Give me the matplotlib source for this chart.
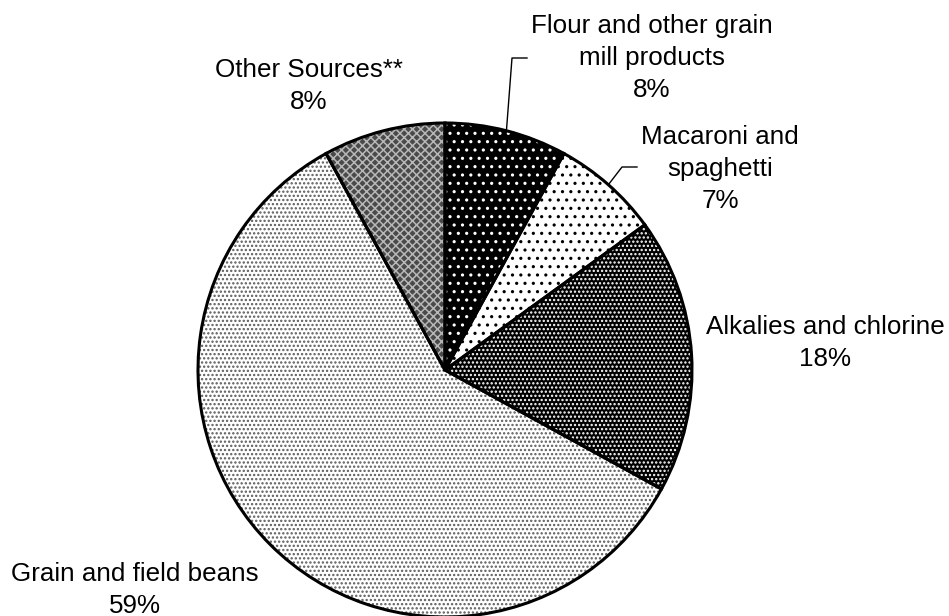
import numpy as np
import matplotlib.pyplot as plt

plt.rcParams['font.family'] = ['Liberation Sans', 'DejaVu Sans']
plt.rcParams['hatch.linewidth'] = 1.1

categories = ['Flour and other grain\nmill products', 'Macaroni and\nspaghetti',
              'Alkalies and chlorine', 'Grain and field beans', 'Other Sources**']
shares = [8, 7, 18, 59, 8]

# fill, hatch colour and hatch pattern for each slice
face = ['black', 'white', 'black', 'white', '#4a4a4a']
hatch_col = ['white', 'black', 'white', '#5a5a5a', '#b8b8b8']
hatches = ['..', '..', '....', '....', 'xxxx']

# label centres and leader elbows, pixels from top left
label_xy = [(652, 58), (720, 169), (825, 343), (135, 590), (309, 86)]
leader_elbow = [(512, 58), (622, 167), None, None, None]

W, H = 949, 616
fig = plt.figure(figsize=(W / 100, H / 100), dpi=100)
ax = fig.add_axes([0, 0, 1, 1])

center = (445, H - 370)
radius = 247

wedges, _ = ax.pie(shares, startangle=90, counterclock=False,
                   center=center, radius=radius, colors=face)
for w, hc, h in zip(wedges, hatch_col, hatches):
    w.set_edgecolor(hc)
    w.set_linewidth(0)
    w.set_hatch(h)

# outlines on top
ax.pie(shares, startangle=90, counterclock=False, center=center, radius=radius,
       wedgeprops=dict(fill=False, edgecolor='black', linewidth=2.2))

ax.set_xlim(0, W)
ax.set_ylim(0, H)
ax.set_aspect('equal')
ax.axis('off')

for w, lab, v, (lx, ly), elb in zip(wedges, categories, shares, label_xy, leader_elbow):
    ax.text(lx, H - ly, f'{lab}\n{v}%', ha='center', va='center',
            multialignment='center', fontsize=18.7, linespacing=1.4, color='black')
    if elb is not None:
        mid = np.deg2rad((w.theta1 + w.theta2) / 2)
        sx = center[0] + radius * np.cos(mid)
        sy = center[1] + radius * np.sin(mid)
        ax.plot([sx, elb[0], elb[0] + 15], [sy, H - elb[1], H - elb[1]],
                color='black', lw=1)

fig.savefig('out.png', dpi=100)
